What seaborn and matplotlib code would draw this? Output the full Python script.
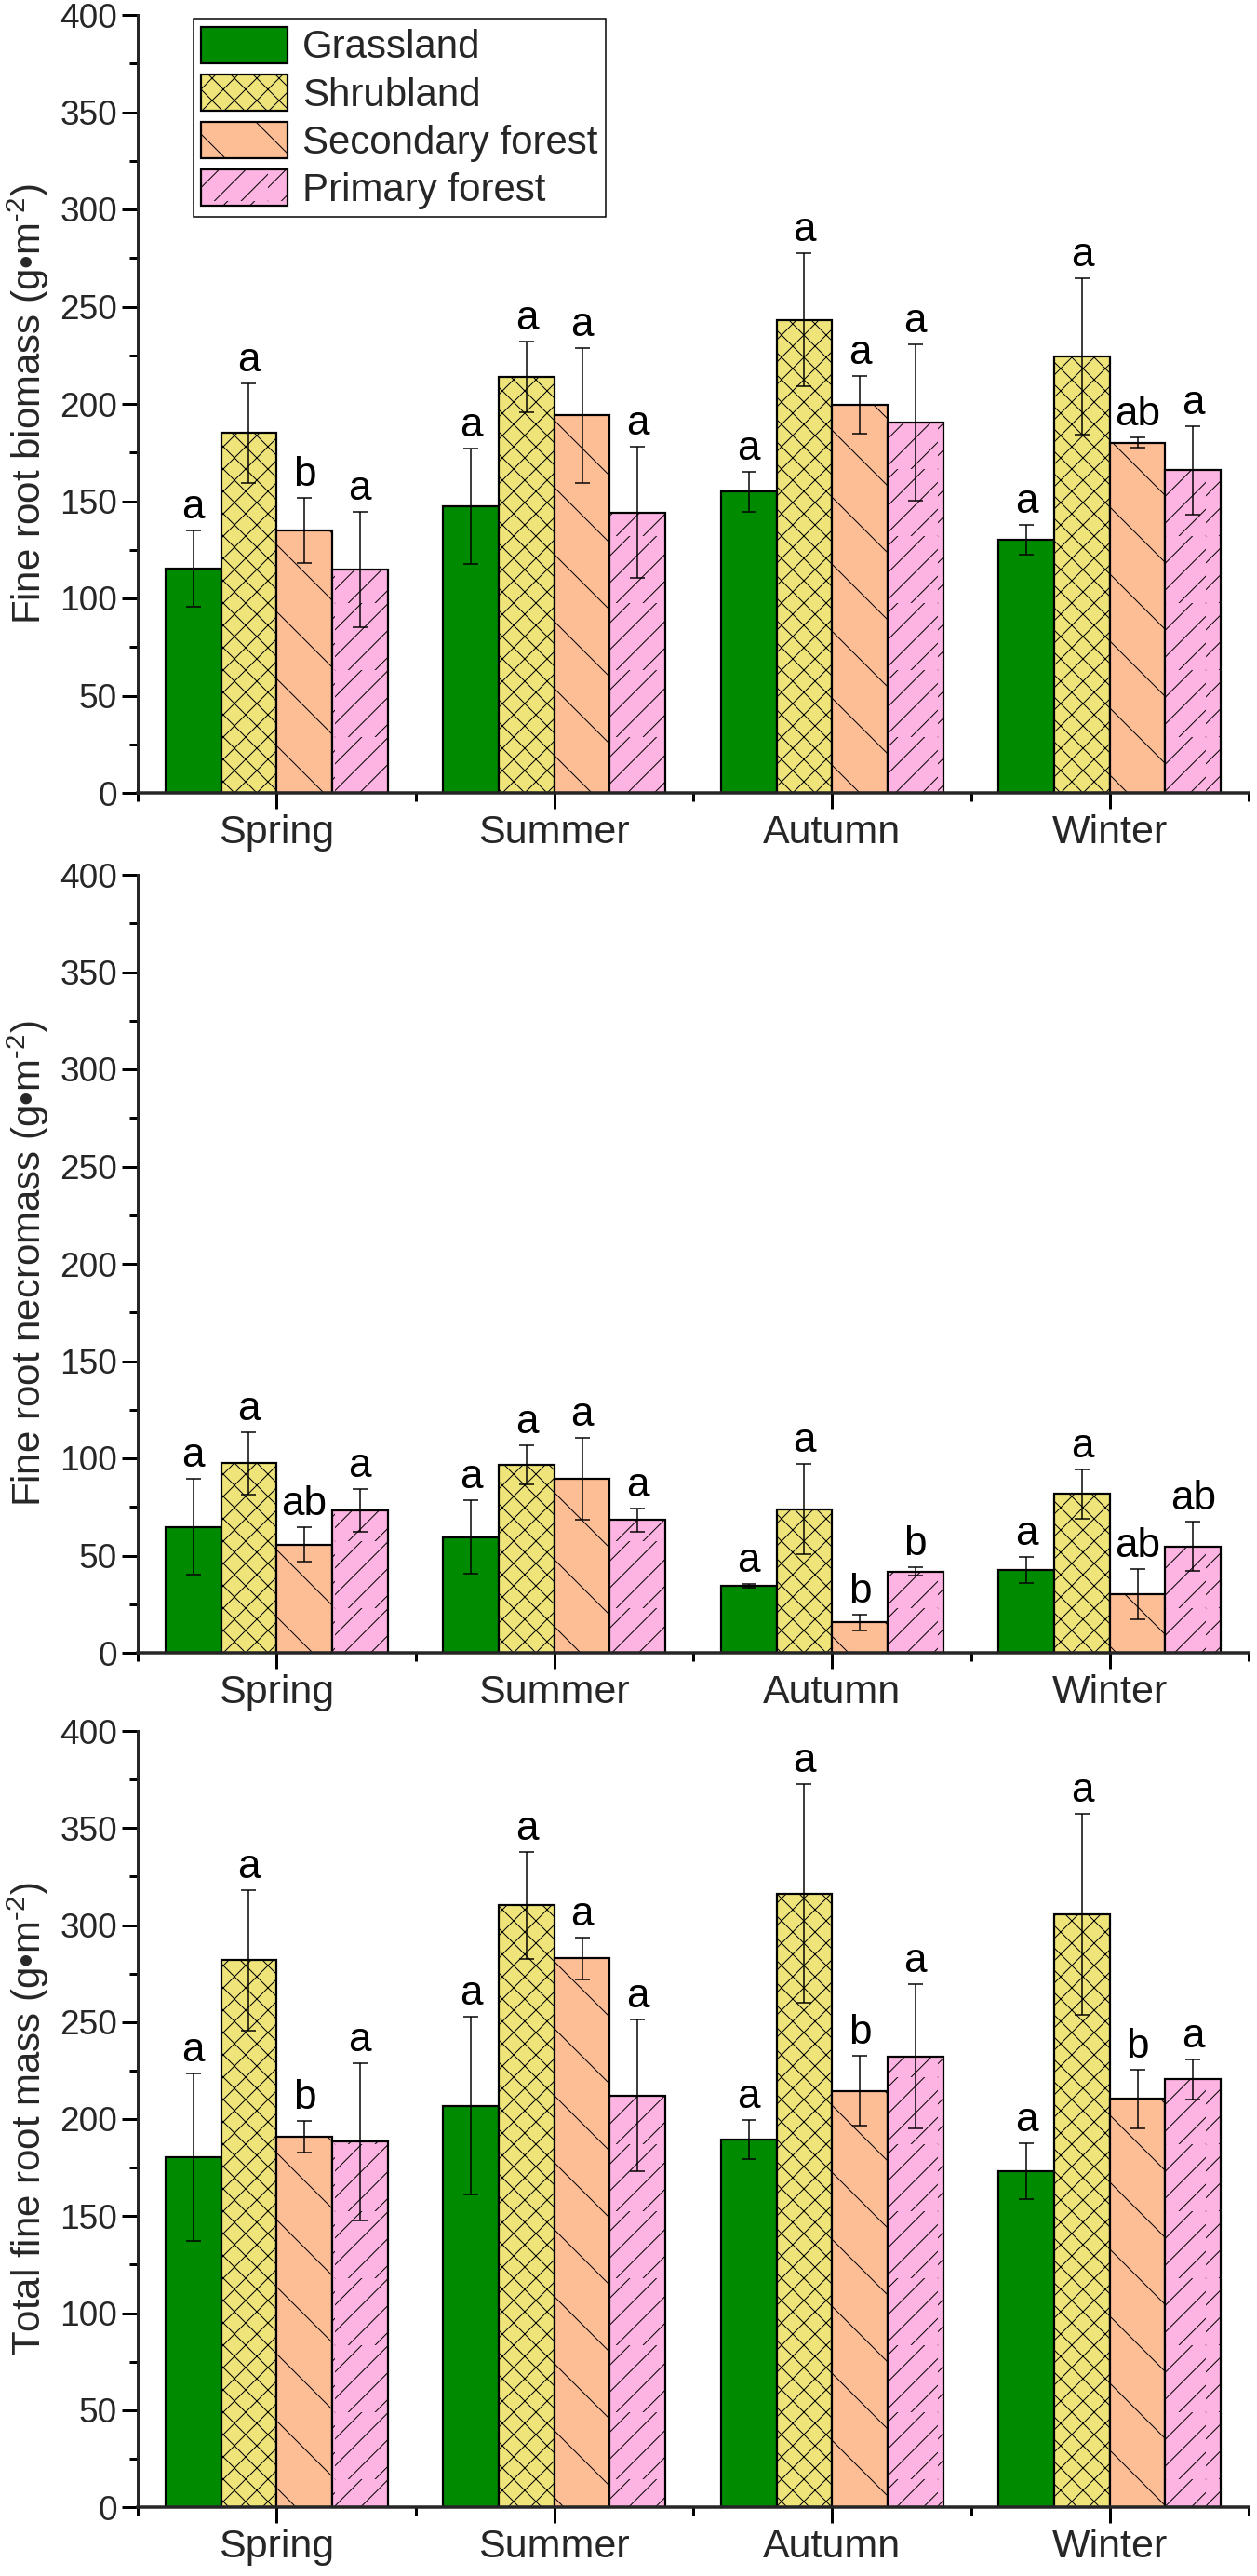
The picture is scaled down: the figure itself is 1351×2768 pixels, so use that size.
import numpy as np
import pandas as pd
import matplotlib
matplotlib.use("Agg")
import matplotlib.pyplot as plt
import matplotlib.hatch as mhatch
from matplotlib.ticker import MultipleLocator
import seaborn as sns

# ---------------- data ----------------
seasons = ["Spring", "Summer", "Autumn", "Winter"]
types = ["Grassland", "Shrubland", "Secondary forest", "Primary forest"]

# rows = types, columns = seasons
biomass_mean = [[115.4, 147.4, 154.8, 130.1],
                [185.0, 213.9, 243.3, 224.4],
                [135.1, 194.2, 199.5, 180.1],
                [114.9, 144.2, 190.4, 165.9]]
biomass_err = [[19.6, 29.6, 10.3, 7.7],
               [25.6, 18.0, 34.0, 40.0],
               [16.7, 34.7, 14.7, 2.5],
               [29.8, 33.7, 40.0, 22.7]]
biomass_letters = [["a", "a", "a", "a"],
                   ["a", "a", "a", "a"],
                   ["b", "a", "a", "ab"],
                   ["a", "a", "a", "a"]]

necromass_mean = [[64.8, 59.5, 34.4, 42.7],
                  [97.4, 96.8, 73.9, 81.6],
                  [55.7, 89.3, 15.7, 30.2],
                  [73.4, 68.2, 41.8, 54.7]]
necromass_err = [[24.6, 19.0, 1.0, 6.7],
                 [16.0, 10.0, 23.0, 12.7],
                 [9.0, 21.0, 4.0, 13.0],
                 [11.0, 6.0, 2.0, 12.6]]
necromass_letters = [["a", "a", "a", "a"],
                     ["a", "a", "a", "a"],
                     ["ab", "a", "b", "ab"],
                     ["a", "a", "b", "ab"]]

total_mean = [[180.3, 206.9, 189.4, 173.2],
              [281.8, 310.2, 316.2, 305.5],
              [190.7, 282.8, 214.6, 210.4],
              [188.3, 212.2, 232.3, 220.4]]
total_err = [[43.3, 45.7, 9.9, 14.4],
             [36.0, 27.6, 56.3, 52.0],
             [8.2, 10.9, 18.0, 15.2],
             [40.6, 39.0, 37.2, 10.5]]
total_letters = [["a", "a", "a", "a"],
                 ["a", "a", "a", "a"],
                 ["b", "a", "b", "b"],
                 ["a", "a", "a", "a"]]

ylabels = ["Fine root biomass (g\u2022m$^{\\text{-}2}$)",
           "Fine root necromass (g\u2022m$^{\\text{-}2}$)",
           "Total fine root mass (g\u2022m$^{\\text{-}2}$)"]

colors = ["#008A00", "#EEE47A", "#FDBD95", "#FDB4E2"]
hatches = [None, "x", "\\", "/"]

# ---------------- hatch density tweak ----------------
class _NE(mhatch.NorthEastHatch):
    def __init__(self, hatch, density):
        self.num_lines = int(hatch.count('/') * 5 +
                             (hatch.count('x') + hatch.count('X')) * density)
        self.num_vertices = (self.num_lines + 1) * 2 if self.num_lines else 0


class _SE(mhatch.SouthEastHatch):
    def __init__(self, hatch, density):
        self.num_lines = int(hatch.count('\\') * 2 +
                             (hatch.count('x') + hatch.count('X')) * density)
        self.num_vertices = (self.num_lines + 1) * 2 if self.num_lines else 0


mhatch._hatch_types = [_NE if t is mhatch.NorthEastHatch else
                       _SE if t is mhatch.SouthEastHatch else t
                       for t in mhatch._hatch_types]

# ---------------- style ----------------
sns.set_style("ticks")
plt.rcParams["font.family"] = ["Liberation Sans", "DejaVu Sans"]
plt.rcParams["mathtext.fontset"] = "custom"
plt.rcParams["mathtext.rm"] = "Liberation Sans"
plt.rcParams["mathtext.default"] = "regular"
plt.rcParams["hatch.linewidth"] = 1.0
plt.rcParams["hatch.color"] = "black"

W, H = 1351, 2768
DPI = 72
fig = plt.figure(figsize=(W / DPI, H / DPI), dpi=DPI)
fig.patch.set_facecolor("white")

panels = [(16, 852), (940, 1776), (1860, 2694)]
left_px, right_px = 148, 1342

datasets = [(biomass_mean, biomass_err, biomass_letters),
            (necromass_mean, necromass_err, necromass_letters),
            (total_mean, total_err, total_letters)]

palette = dict(zip(types, colors))

for k, ((top, bot), (means, errs, letters)) in enumerate(zip(panels, datasets)):
    ax = fig.add_axes([left_px / W, 1 - bot / H, (right_px - left_px) / W, (bot - top) / H])
    rows = []
    for i, t in enumerate(types):
        for j, s in enumerate(seasons):
            rows.append({"Season": s, "Type": t, "Value": means[i][j]})
    df = pd.DataFrame(rows)
    sns.barplot(data=df, x="Season", y="Value", hue="Type", order=seasons,
                hue_order=types, palette=palette, saturation=1, errorbar=None,
                width=0.8, edgecolor="black", linewidth=2.2, legend=False, ax=ax)
    bars = list(ax.containers)
    for i, cont in enumerate(bars):
        for j, p in enumerate(cont.patches):
            if hatches[i]:
                p.set_hatch(hatches[i])
            xc = p.get_x() + p.get_width() / 2
            ax.errorbar(xc, means[i][j], yerr=errs[i][j], fmt="none",
                        ecolor="black", elinewidth=1.5, capsize=8, capthick=1.5,
                        zorder=5)
            ax.annotate(letters[i][j], (xc, means[i][j] + errs[i][j]),
                        xytext=(0, 13), textcoords="offset points",
                        ha="center", va="baseline", fontsize=44, color="black")

    ax.set_xlim(-0.5, 3.5)
    ax.set_ylim(0, 400)
    ax.yaxis.set_major_locator(MultipleLocator(50))
    ax.yaxis.set_minor_locator(MultipleLocator(25))
    ax.set_xticks([-0.5, 0.5, 1.5, 2.5, 3.5], minor=True)
    ax.set_xlabel("")
    ax.set_ylabel(ylabels[k], fontsize=42, labelpad=9)
    for side in ["top", "right"]:
        ax.spines[side].set_visible(False)
    ax.spines["left"].set_linewidth(3)
    ax.spines["bottom"].set_linewidth(3.5)
    ax.tick_params(axis="both", which="major", direction="out", length=17,
                   width=3, color="black")
    ax.tick_params(axis="both", which="minor", direction="out", length=9,
                   width=3, color="black")
    ax.tick_params(axis="y", which="major", labelsize=37, pad=5)
    ax.tick_params(axis="x", which="major", labelsize=43, pad=6)
    ax.set_facecolor("white")

    if k == 0:
        leg = ax.legend(bars, types, loc="upper left",
                        bbox_to_anchor=(0.05, 0.995), fontsize=42,
                        frameon=True, fancybox=False, framealpha=1,
                        edgecolor="black", handlelength=2.2, handleheight=1.05,
                        labelspacing=0.2, handletextpad=0.4, borderpad=0.2,
                        borderaxespad=0)
        leg.get_frame().set_linewidth(1.5)

fig.savefig("out.png", dpi=DPI, facecolor="white")
